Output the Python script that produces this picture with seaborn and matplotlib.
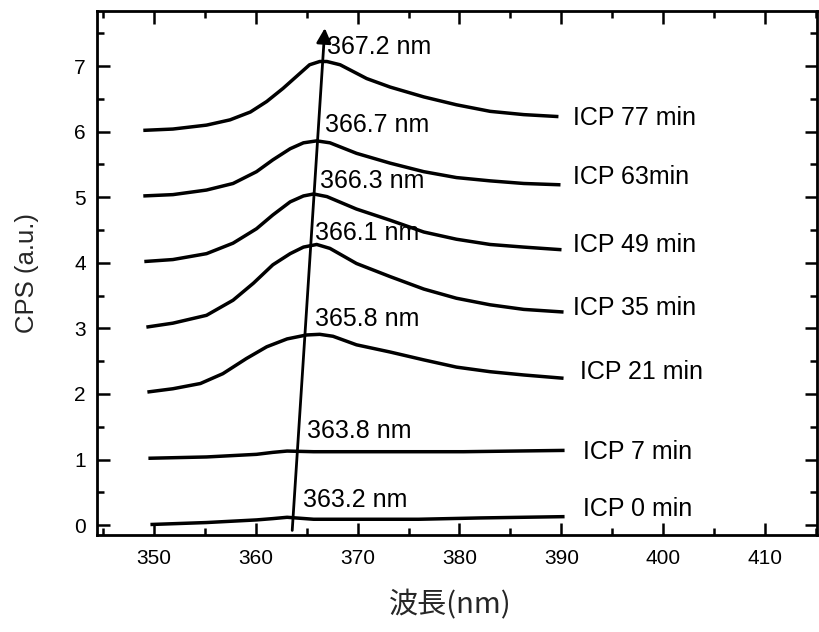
import matplotlib
matplotlib.use("Agg")
import matplotlib.pyplot as plt
import seaborn as sns
import pandas as pd
from matplotlib.ticker import MultipleLocator

# ---------------- data ----------------
w_0 = [349.7, 355.2, 360.1, 361.7, 363.1, 365.7, 371.5, 376.0, 382.0, 390.3]
v_0 = [0.01, 0.04, 0.08, 0.10, 0.12, 0.09, 0.09, 0.09, 0.11, 0.13]

w_7 = [349.5, 355.2, 360.1, 361.7, 363.1, 365.7, 371.5, 376.0, 380.4, 390.3]
v_7 = [1.02, 1.04, 1.08, 1.11, 1.13, 1.12, 1.12, 1.12, 1.12, 1.14]

w_21 = [349.4, 351.9, 354.6, 356.8, 359.1, 361.1, 363.1, 365.0, 366.3, 367.6, 369.9,
        373.2, 376.5, 379.7, 383.0, 386.3, 390.2]
v_21 = [2.03, 2.08, 2.16, 2.31, 2.54, 2.72, 2.84, 2.90, 2.91, 2.88, 2.75,
        2.64, 2.52, 2.41, 2.34, 2.29, 2.24]

w_35 = [349.3, 351.9, 355.2, 357.8, 359.8, 361.7, 363.4, 364.7, 366.0, 367.3, 369.9,
        373.2, 376.5, 379.7, 383.0, 386.3, 390.2]
v_35 = [3.02, 3.08, 3.20, 3.43, 3.69, 3.97, 4.14, 4.24, 4.28, 4.22, 3.99,
        3.79, 3.60, 3.46, 3.36, 3.29, 3.25]

w_49 = [349.1, 351.9, 355.2, 357.8, 360.1, 361.7, 363.4, 364.7, 365.7, 367.0, 369.9,
        373.2, 376.5, 379.7, 383.0, 386.3, 390.0]
v_49 = [4.02, 4.05, 4.14, 4.30, 4.52, 4.73, 4.93, 5.02, 5.05, 5.01, 4.82,
        4.65, 4.47, 4.36, 4.28, 4.24, 4.20]

w_63 = [349.0, 351.9, 355.2, 357.8, 360.1, 361.7, 363.4, 364.7, 366.0, 367.3, 369.9,
        373.2, 376.5, 379.7, 383.0, 386.3, 389.9]
v_63 = [5.02, 5.04, 5.11, 5.21, 5.39, 5.57, 5.74, 5.83, 5.86, 5.83, 5.67,
        5.52, 5.39, 5.30, 5.25, 5.21, 5.19]

w_77 = [349.0, 351.9, 355.2, 357.5, 359.5, 361.1, 362.7, 364.0, 365.3, 366.3, 367.0,
        368.3, 370.9, 373.2, 376.5, 379.7, 383.0, 386.3, 389.7]
v_77 = [6.02, 6.04, 6.10, 6.18, 6.30, 6.46, 6.66, 6.84, 7.02, 7.07, 7.07,
        7.02, 6.81, 6.68, 6.53, 6.41, 6.31, 6.26, 6.23]

series_names = ["ICP 0 min", "ICP 7 min", "ICP 21 min", "ICP 35 min",
                "ICP 49 min", "ICP 63min", "ICP 77 min"]
series_w = [w_0, w_7, w_21, w_35, w_49, w_63, w_77]
series_v = [v_0, v_7, v_21, v_35, v_49, v_63, v_77]

# right-hand series labels: (x, y)
name_x = [392.1, 392.1, 391.8, 391.1, 391.1, 391.1, 391.1]
name_y = [0.25, 1.12, 2.34, 3.31, 4.27, 5.31, 6.21]

# peak wavelength labels
peak_labels = ["363.2 nm", "363.8 nm", "365.8 nm", "366.1 nm", "366.3 nm", "366.7 nm", "367.2 nm"]
peak_x = [364.7, 365.0, 365.8, 365.8, 366.3, 366.8, 367.0]
peak_y = [0.38, 1.43, 3.15, 4.45, 5.25, 6.10, 7.29]

# arrow through peaks
arrow_start = (363.6, -0.08)
arrow_end = (366.8, 7.58)

x_ticks = [350, 360, 370, 380, 390, 400, 410]
y_ticks = [0, 1, 2, 3, 4, 5, 6, 7]

# ---------------- build long table ----------------
rows = []
for name, ws, vs in zip(series_names, series_w, series_v):
    for w, v in zip(ws, vs):
        rows.append({"wavelength": w, "cps": v, "series": name})
df = pd.DataFrame(rows)

# ---------------- figure ----------------
sns.set_style("ticks")
plt.rcParams["font.family"] = ["Liberation Sans", "Noto Sans CJK JP", "DejaVu Sans"]

fig = plt.figure(figsize=(8.19, 6.32), dpi=100)
ax = fig.add_axes([97 / 819, 1 - 535 / 632, 720 / 819, 524 / 632])

sns.lineplot(data=df, x="wavelength", y="cps", hue="series", units="series",
             estimator=None, sort=False, palette=["black"] * len(series_names),
             legend=False, lw=2.5, ax=ax)
for line in ax.get_lines():
    line.set_solid_joinstyle("round")
    line.set_solid_capstyle("butt")

ax.set_xlim(344.46, 415.05)
ax.set_ylim(-0.15, 7.84)
ax.set_xticks(x_ticks)
ax.set_yticks(y_ticks)
ax.xaxis.set_minor_locator(MultipleLocator(5))
ax.yaxis.set_minor_locator(MultipleLocator(0.5))
ax.tick_params(which="both", direction="in", top=True, right=True,
               width=1.8, colors="black", labelsize=15)
ax.tick_params(which="major", length=9)
ax.tick_params(which="minor", length=5)
ax.tick_params(axis="x", which="major", pad=10)
ax.tick_params(axis="y", which="major", pad=8)
for sp in ax.spines.values():
    sp.set_visible(True)
    sp.set_linewidth(2.0)
    sp.set_color("black")

# arrow
ax.annotate("", xy=arrow_end, xytext=arrow_start,
            arrowprops=dict(arrowstyle="-|>", lw=2.0, color="black",
                            mutation_scale=22, shrinkA=0, shrinkB=0))

for t, x, y in zip(peak_labels, peak_x, peak_y):
    ax.text(x, y, t, ha="left", va="center", fontsize=18, color="black")
for t, x, y in zip(series_names, name_x, name_y):
    ax.text(x, y, t, ha="left", va="center", fontsize=18, color="black")

ax.set_xlabel("波長(nm)", fontsize=21, family=["Noto Sans CJK JP", "DejaVu Sans"])
ax.xaxis.set_label_coords(0.49, -0.105)
ax.set_ylabel("CPS (a.u.)", fontsize=18.5)
ax.yaxis.set_label_coords(-0.08, 0.5)

fig.savefig("out.png", dpi=100)
